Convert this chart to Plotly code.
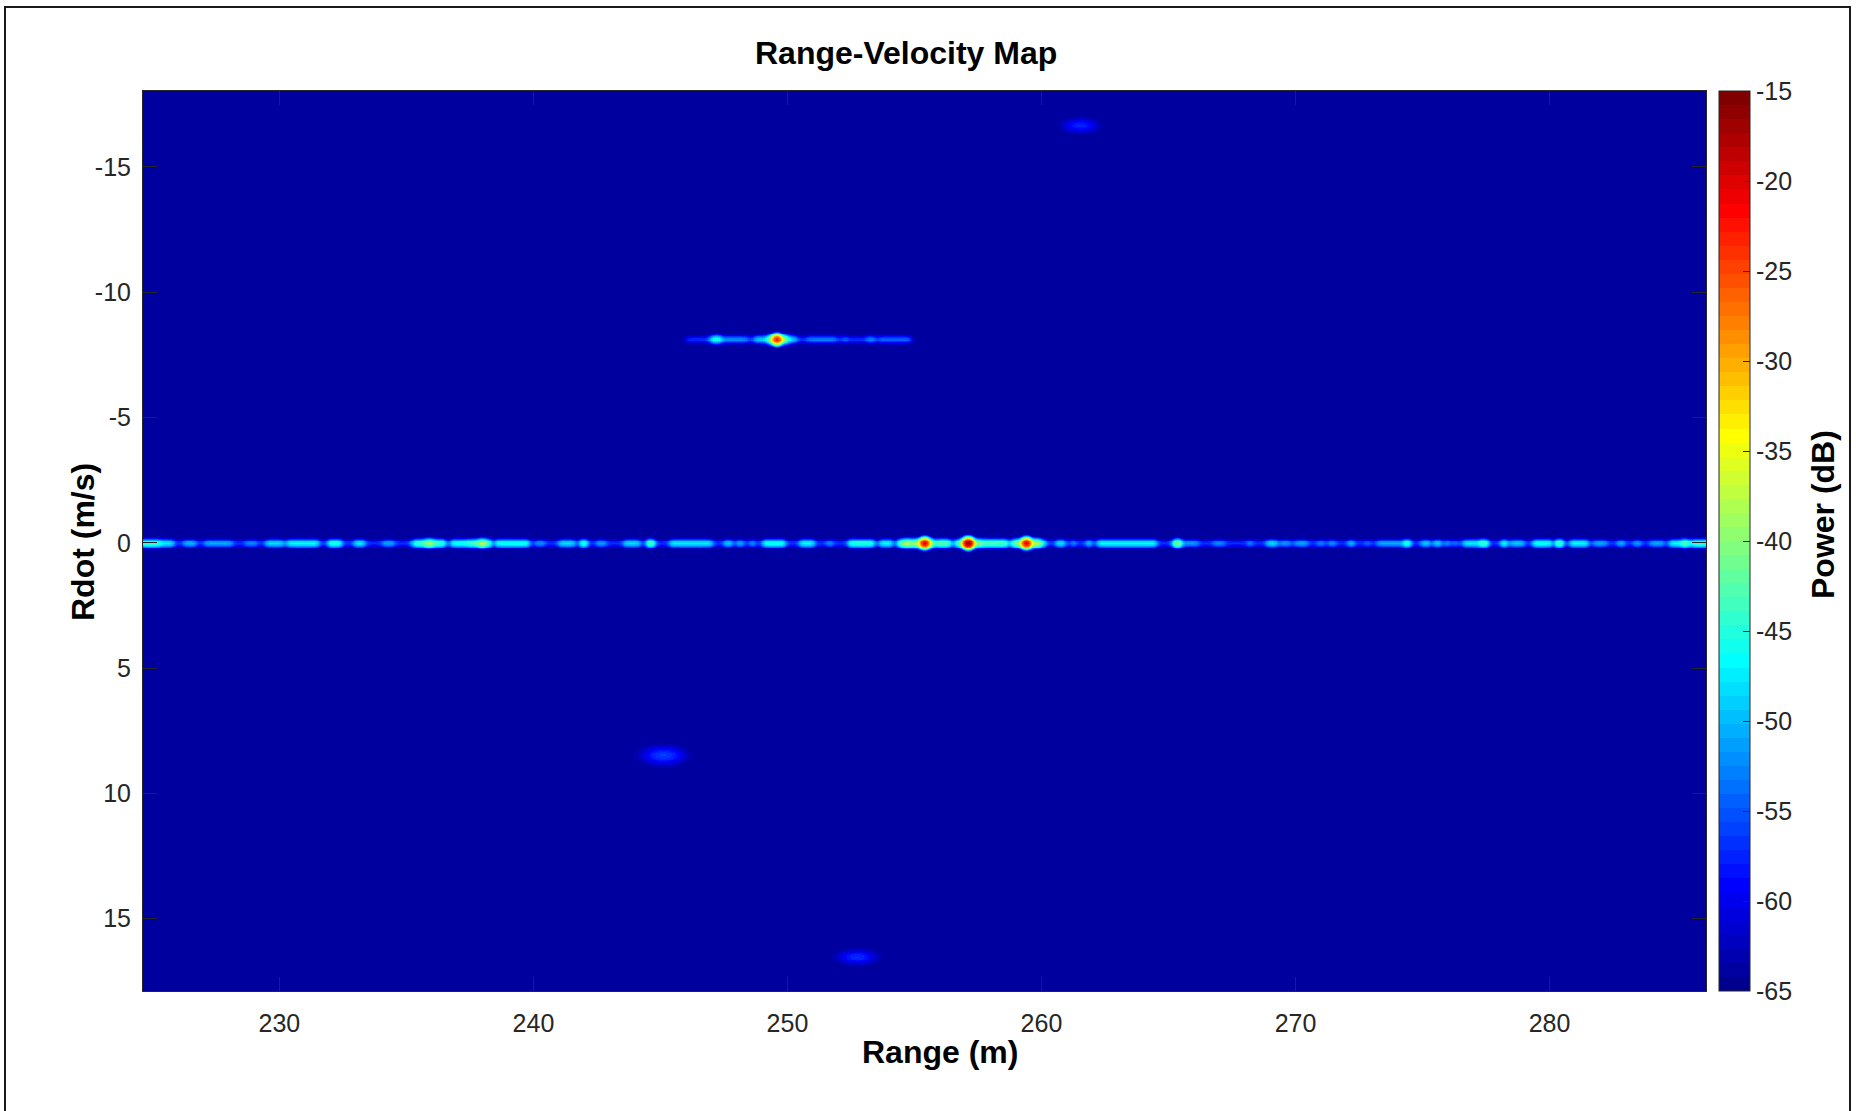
import numpy as np
import plotly.graph_objects as go

# ---------------------------------------------------------------------------
# Axis limits and ticks
# ---------------------------------------------------------------------------
range_limits = [224.63, 286.16]          # Range (m)
rdot_limits = [-18.03, 17.89]            # Rdot (m/s), drawn top -> bottom
power_limits = [-65, -15]                # Power (dB)

x_ticks = [230, 240, 250, 260, 270, 280]
y_ticks = [-15, -10, -5, 0, 5, 10, 15]
cbar_ticks = [-65, -60, -55, -50, -45, -40, -35, -30, -25, -20, -15]

noise_floor_db = -64.2

# ---------------------------------------------------------------------------
# Stationary clutter along Rdot = 0
# ---------------------------------------------------------------------------
clutter_rdot = 0.0
clutter_base_db = -58.0
# (start m, end m, level dB)
clutter_segments = [
    (224.60, 225.25, -44), (225.25, 225.78, -48), (226.23, 226.68, -51),
    (227.06, 228.11, -52), (228.64, 229.09, -54), (229.47, 230.14, -49),
    (230.30, 231.50, -47), (231.95, 232.40, -45), (232.93, 233.31, -48),
    (234.06, 234.50, -52), (235.27, 236.47, -44), (236.77, 237.38, -46),
    (237.38, 238.28, -44), (238.51, 239.79, -46), (240.09, 240.39, -53),
    (240.99, 241.60, -49), (242.50, 242.80, -52), (243.55, 244.16, -49),
    (245.36, 247.01, -48), (247.54, 247.76, -49), (247.99, 248.22, -51),
    (248.52, 248.67, -52), (249.05, 249.87, -46), (250.48, 251.00, -47),
    (251.53, 251.76, -53), (252.44, 253.34, -45), (253.64, 254.09, -47),
    (254.39, 255.15, -42), (255.90, 256.35, -42), (257.41, 258.61, -43),
    (258.84, 259.22, -45), (259.67, 259.97, -39), (260.57, 260.87, -48),
    (261.17, 261.32, -53), (261.78, 261.93, -49), (262.23, 264.49, -47),
    (265.54, 266.15, -53), (266.75, 267.20, -54), (268.10, 268.26, -53),
    (268.86, 269.26, -49), (269.39, 269.79, -53), (269.98, 270.44, -52),
    (270.84, 271.10, -54), (271.30, 271.56, -53), (272.08, 272.28, -50),
    (272.70, 272.90, -56), (273.20, 274.25, -52), (274.97, 275.23, -49),
    (275.43, 275.69, -49), (275.86, 276.06, -53), (276.18, 276.38, -55),
    (276.61, 277.40, -48), (278.09, 278.29, -46), (278.45, 278.97, -50),
    (279.37, 280.02, -46), (280.81, 281.47, -47), (281.73, 282.25, -52),
    (282.65, 282.91, -51), (283.30, 283.57, -52), (283.96, 284.49, -52),
    (284.75, 285.67, -47), (285.67, 286.20, -44),
]
# (range m, level dB, width m)
clutter_peaks = [
    (235.87, -40, 0.12), (237.95, -39, 0.12), (241.97, -45, 0.10),
    (244.61, -43, 0.10), (254.70, -40, 0.12),
    (255.37, -36, 0.22), (255.37, -21, 0.09),
    (257.11, -36, 0.22), (257.11, -17, 0.09),
    (259.40, -37, 0.25), (259.40, -21, 0.09),
    (265.32, -40, 0.10), (274.38, -45, 0.10), (277.40, -44, 0.10),
    (280.35, -43, 0.10), (285.30, -44, 0.10),
]

# ---------------------------------------------------------------------------
# Moving target return
# ---------------------------------------------------------------------------
target_rdot = -8.13
target_base = (246.00, 254.85, -58)
target_segments = [
    (247.50, 248.40, -54), (248.70, 249.25, -50), (249.25, 249.97, -39),
    (250.00, 250.30, -50), (250.76, 251.90, -55), (252.20, 252.35, -56),
    (253.10, 253.40, -54), (253.60, 254.80, -57),
]
target_peaks = [
    (247.20, -45, 0.14), (249.58, -23, 0.09),
]

# Diffuse returns: (range m, rdot m/s, level dB, width m, width m/s)
diffuse_returns = [
    (261.52, -16.67, -58.5, 0.38, 0.15),
    (245.10, 8.47, -57.0, 0.45, 0.19),
    (252.73, 16.52, -58.0, 0.40, 0.15),
]

# ---------------------------------------------------------------------------
# MATLAB-style jet(64) colormap, stepped
# ---------------------------------------------------------------------------
def jet_colors(m=64):
    n = int(np.ceil(m / 4))
    u = np.concatenate([np.arange(1, n + 1) / n, np.ones(n - 1), np.arange(n, 0, -1) / n])
    g = int(np.ceil(n / 2)) - (1 if m % 4 == 1 else 0) + np.arange(1, len(u) + 1)
    r = g + n
    b = g - n
    J = np.zeros((m, 3))
    J[r[r <= m] - 1, 0] = u[r <= m]
    J[g[g <= m] - 1, 1] = u[g <= m]
    J[b[b >= 1] - 1, 2] = u[b >= 1]
    return J


jet = jet_colors(64)
colorscale = []
for i, (cr, cg, cb) in enumerate(jet):
    c = f"rgb({int(round(cr * 255))},{int(round(cg * 255))},{int(round(cb * 255))})"
    colorscale.append([i / 64, c])
    colorscale.append([(i + 1) / 64, c])

# ---------------------------------------------------------------------------
# Power map on a range / Rdot grid
# ---------------------------------------------------------------------------
rng = np.arange(224.60, 286.22, 0.08)
rdot = np.arange(-18.05, 17.93, 0.07)


def db2lin(d):
    return 10.0 ** (np.asarray(d) / 10.0)


def box(r, r0, r1, edge=0.05):
    return 1.0 / (1.0 + np.exp(-(r - r0) / edge)) / (1.0 + np.exp((r - r1) / edge))


def line_profile(r, segments, peaks):
    p = np.zeros_like(r)
    for r0, r1, lvl in segments:
        p += db2lin(lvl) * box(r, r0, r1)
    for rc, lvl, w in peaks:
        p += db2lin(lvl) * np.exp(-0.5 * ((r - rc) / w) ** 2)
    return p


clutter_line = db2lin(clutter_base_db) + line_profile(rng, clutter_segments, clutter_peaks)
target_line = db2lin(target_base[2]) * box(rng, target_base[0], target_base[1]) \
    + line_profile(rng, target_segments, target_peaks)

sig_v = 0.075
V = rdot[:, None]
R = rng[None, :]
power = np.full((len(rdot), len(rng)), db2lin(noise_floor_db))
power += clutter_line[None, :] * np.exp(-0.5 * ((V - clutter_rdot) / sig_v) ** 2)
power += target_line[None, :] * np.exp(-0.5 * ((V - target_rdot) / sig_v) ** 2)
for rc, vc, lvl, wr, wv in diffuse_returns:
    power += db2lin(lvl) * np.exp(-0.5 * ((R - rc) / wr) ** 2 - 0.5 * ((V - vc) / wv) ** 2)

power_db = (10.0 * np.log10(power)).astype(np.float32)

# ---------------------------------------------------------------------------
# Figure
# ---------------------------------------------------------------------------
W, H = 1856, 1111
L, Rm, T, B = 143, 150, 91, 120
pw, ph = W - L - Rm, H - T - B


def px_x(x):
    return (x - L) / pw


def px_y(y):
    return (H - B - y) / ph


font_family = "Liberation Sans, Arial, Helvetica, sans-serif"
axis_grey = "#262626"

fig = go.Figure(
    go.Heatmap(
        x=rng,
        y=rdot,
        z=power_db,
        zmin=power_limits[0],
        zmax=power_limits[1],
        zsmooth="best",
        colorscale=colorscale,
        hovertemplate="Range %{x:.2f} m<br>Rdot %{y:.2f} m/s<br>%{z:.1f} dB<extra></extra>",
        colorbar=dict(
            x=px_x(1719),
            xanchor="left",
            xref="paper",
            y=0.5,
            yanchor="middle",
            len=1.0,
            lenmode="fraction",
            thickness=31,
            thicknessmode="pixels",
            xpad=0,
            ypad=0,
            outlinewidth=1,
            outlinecolor=axis_grey,
            tickmode="array",
            tickvals=cbar_ticks,
            ticktext=[str(t) for t in cbar_ticks],
            ticks="inside",
            ticklen=7,
            tickwidth=1,
            tickcolor=axis_grey,
            tickfont=dict(family=font_family, size=25, color=axis_grey),
        ),
    )
)

fig.update_xaxes(
    range=range_limits,
    tickmode="array",
    tickvals=x_ticks,
    ticktext=[str(t) for t in x_ticks],
    ticks="inside",
    ticklen=14,
    tickwidth=1,
    tickcolor=axis_grey,
    showline=True,
    linecolor=axis_grey,
    linewidth=1,
    mirror="ticks",
    showgrid=False,
    zeroline=False,
    tickfont=dict(family=font_family, size=25, color=axis_grey),
    ticklabelstandoff=10,
)
fig.update_yaxes(
    range=[rdot_limits[1], rdot_limits[0]],
    tickmode="array",
    tickvals=y_ticks,
    ticktext=[str(t) for t in y_ticks],
    ticks="inside",
    ticklen=14,
    tickwidth=1,
    tickcolor=axis_grey,
    showline=True,
    linecolor=axis_grey,
    linewidth=1,
    mirror="ticks",
    showgrid=False,
    zeroline=False,
    tickfont=dict(family=font_family, size=25, color=axis_grey),
    ticklabelstandoff=6,
)

annotations = [
    dict(text="<b>Range-Velocity Map</b>", x=px_x(906), y=px_y(53),
         font=dict(size=32, color="#000000")),
    dict(text="<b>Range (m)</b>", x=px_x(940), y=px_y(1052),
         font=dict(size=32, color="#000000")),
    dict(text="<b>Rdot (m/s)</b>", x=px_x(83), y=px_y(542), textangle=-90,
         font=dict(size=32, color="#000000")),
    dict(text="<b>Power (dB)</b>", x=px_x(1823), y=px_y(515), textangle=-90,
         font=dict(size=32, color="#000000")),
]
for a in annotations:
    a.update(xref="paper", yref="paper", xanchor="center", yanchor="middle",
             showarrow=False)
    a["font"]["family"] = font_family

fig.update_layout(
    width=W,
    height=H,
    autosize=False,
    margin=dict(l=L, r=Rm, t=T, b=B, pad=0),
    paper_bgcolor="white",
    plot_bgcolor="white",
    annotations=annotations,
    shapes=[
        dict(type="rect", xref="paper", yref="paper",
             x0=px_x(5), x1=px_x(1850), y0=px_y(1140), y1=px_y(7),
             line=dict(color="#1a1a1a", width=2), fillcolor="rgba(0,0,0,0)",
             layer="above"),
    ],
)

fig.write_html("out.html")
